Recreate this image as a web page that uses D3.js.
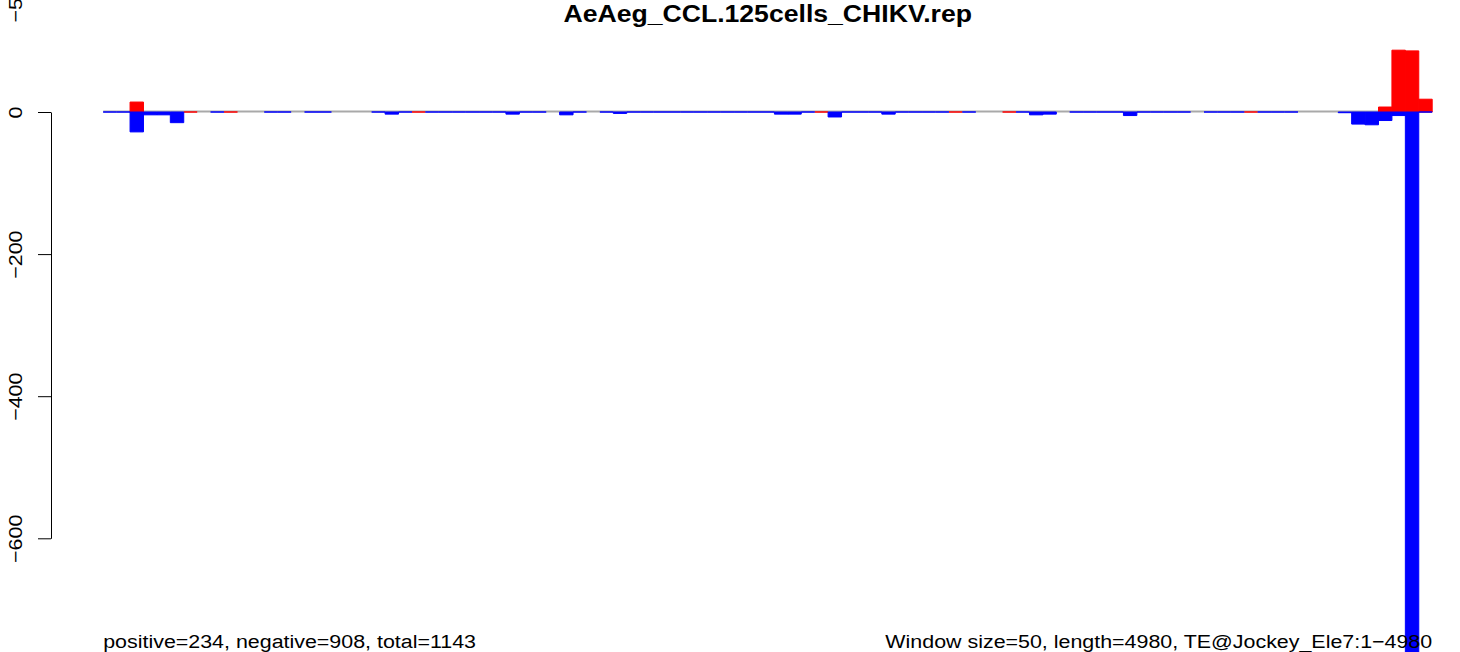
<!DOCTYPE html>
<html>
<head>
<meta charset="utf-8">
<script src="https://cdn.jsdelivr.net/npm/d3@7"></script>
<style>
  html, body { margin: 0; padding: 0; background: #fff; }
  svg { display: block; }
  text { font-family: "Liberation Sans", Arial, Helvetica, sans-serif; fill: #000; }
</style>
</head>
<body>
<svg id="chart" width="1460" height="652"></svg>
<script>
// ---------- data (99 windows of 50 nt) ----------
// null = no bar drawn in that window, 0 = zero-height bar (drawn as a line on the axis)
const windows = d3.range(99);
const posValues = [
  null, null, 14, null, null, null, 0, null, null, 0,
  null, null, null, null, null, null, null, null, null, null,
  null, null, null, 0, null, null, null, null, null, null,
  null, null, null, null, null, null, null, null, null, null,
  null, null, null, null, null, null, null, null, null, null,
  null, null, null, 0, null, null, null, null, null, null,
  null, null, null, 0, null, null, null, 0, null, null,
  null, null, null, null, null, null, null, null, null, null,
  null, null, null, null, null, 0, null, null, null, null,
  null, null, null, null, null, 7, 87, 86, 18
];
const negValues = [
  0, 0, -28, -4, -4, -15, null, null, 0, null,
  null, null, 0, 0, null, 0, 0, null, null, null,
  0, -3, 0, null, 0, 0, 0, 0, 0, 0,
  -3, 0, 0, null, -4, 0, null, 0, -2, 0,
  0, 0, 0, 0, 0, 0, 0, 0, 0, 0,
  -3, -3, 0, null, -7, 0, 0, 0, -3, 0,
  0, 0, 0, null, 0, null, null, null, 0, -4,
  -3, null, 0, 0, 0, 0, -5, 0, 0, 0,
  0, null, 0, 0, 0, null, 0, 0, 0, null,
  null, null, -1, -17, -18, -12, -5, -765, 0
];
const yTickValues = [0, -200, -400, -600];
const topTickValue = 160;        // stray tick at the top edge
const topTickLabel = "\u2212500"; // clipped by the top edge
const title = "AeAeg_CCL.125cells_CHIKV.rep";
const leftNote = "positive=234, negative=908, total=1143";
const rightNote = "Window size=50, length=4980, TE@Jockey_Ele7:1\u22124980";

// ---------- layout ----------
const svg = d3.select("#chart");
const plotLeft = 103.2, plotRight = 1432.2;
const x = d3.scaleBand().domain(windows).range([plotLeft, plotRight]).padding(0);
const y = d3.scaleLinear().domain([0, -600]).range([112, 538.3]);
const stretch = 1.152; // horizontal text stretch of the reference

const plot = svg.append("g");

// zero line
plot.append("line")
  .attr("x1", plotLeft).attr("x2", plotRight)
  .attr("y1", y(0) - 0.5).attr("y2", y(0) - 0.5)
  .attr("stroke", "#a9a9a9").attr("stroke-width", 2);

function barPath(i, v) {
  const x0 = x(i), x1 = x(i) + x.bandwidth();
  const y0 = y(0), y1 = y(v);
  return `M${x0},${y0}H${x1}V${y1}H${x0}Z`;
}

plot.selectAll("path.pos")
  .data(windows.filter(i => posValues[i] !== null))
  .join("path").attr("class", "pos")
  .attr("d", i => barPath(i, posValues[i]))
  .attr("fill", "#ff0000").attr("stroke", "#ff0000").attr("stroke-width", 1);

plot.selectAll("path.neg")
  .data(windows.filter(i => negValues[i] !== null))
  .join("path").attr("class", "neg")
  .attr("d", i => barPath(i, negValues[i]))
  .attr("fill", "#0000ff").attr("stroke", "#0000ff").attr("stroke-width", 1);

// ---------- y axis ----------
const axisX = 51;
const axisG = svg.append("g").attr("transform", `translate(${axisX},0)`)
  .call(d3.axisLeft(y).tickValues(yTickValues).tickSize(13).tickSizeOuter(0).tickPadding(0));
axisG.selectAll("path.domain").attr("stroke", "#000").attr("stroke-width", 1);
axisG.selectAll(".tick line").attr("stroke", "#000").attr("stroke-width", 1);
axisG.selectAll(".tick text")
  .attr("x", null).attr("dy", null)
  .attr("text-anchor", "middle")
  .attr("transform", `translate(-29.5,0) rotate(-90) scale(${stretch},1)`)
  .style("font-size", "18.6px")
  .attr("font-family", null);

// stray top tick
const topG = svg.append("g").attr("transform", `translate(${axisX},${y(topTickValue)})`);
topG.append("line").attr("x1", -13).attr("x2", 0).attr("stroke", "#000").attr("stroke-width", 1);
topG.append("text")
  .attr("text-anchor", "middle")
  .attr("transform", `translate(-29.5,0) rotate(-90) scale(${stretch},1)`)
  .style("font-size", "18.6px")
  .text(topTickLabel);

// ---------- texts ----------
const midX = (plotLeft + plotRight) / 2;
svg.append("text")
  .attr("transform", `translate(${midX},21.7) scale(${stretch},1)`)
  .attr("text-anchor", "middle")
  .style("font-size", "23.1px").style("font-weight", "bold")
  .text(title);

svg.append("text")
  .attr("transform", `translate(${plotLeft},648.3) scale(${stretch},1)`)
  .attr("text-anchor", "start")
  .style("font-size", "18.6px")
  .text(leftNote);

svg.append("text")
  .attr("transform", `translate(${plotRight},648.3) scale(${stretch},1)`)
  .attr("text-anchor", "end")
  .style("font-size", "18.6px")
  .text(rightNote);
</script>
</body>
</html>
